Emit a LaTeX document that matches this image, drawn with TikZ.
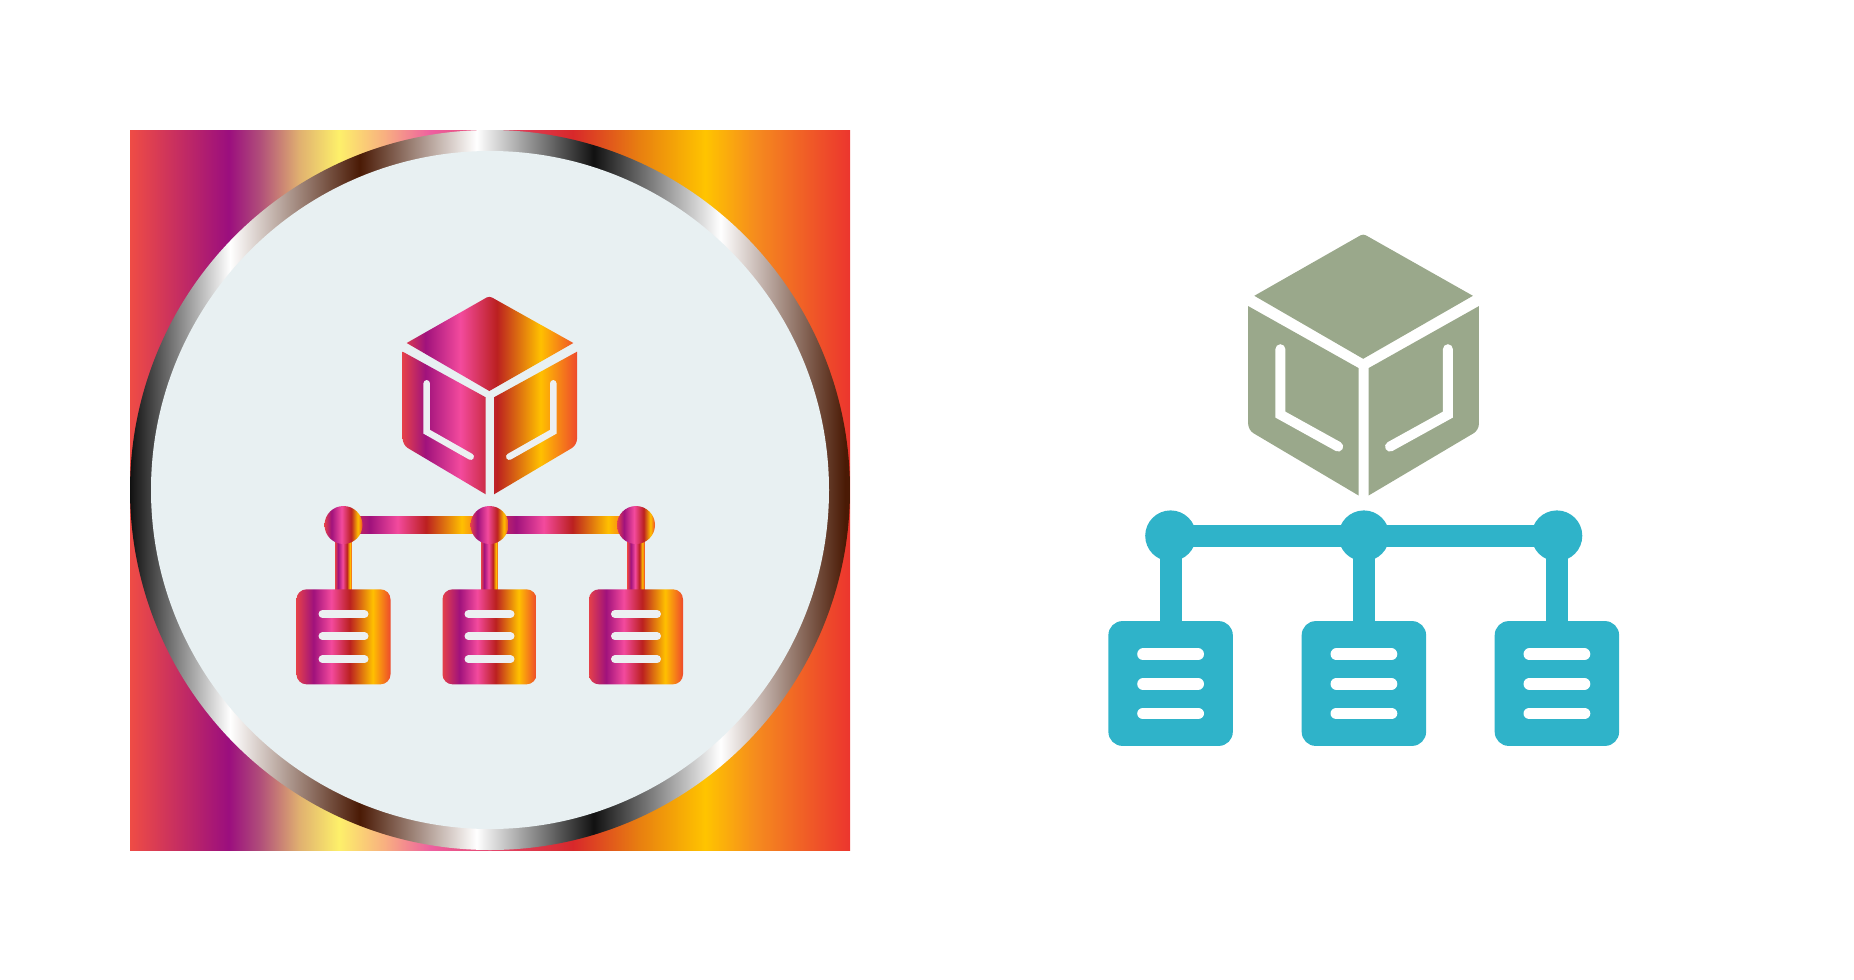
\documentclass[tikz,border=0pt]{standalone}
\usetikzlibrary{backgrounds}
\definecolor{discfill}{HTML}{E8F0F2}
\definecolor{rulefill}{HTML}{ECF0F2}
\definecolor{sagefill}{HTML}{9AA88B}
\definecolor{tealfill}{HTML}{2FB3C9}
\definecolor{gA}{HTML}{EF4C45}
\definecolor{gB}{HTML}{9B0E7E}
\definecolor{gC}{HTML}{B04D7A}
\definecolor{gD}{HTML}{E0B070}
\definecolor{gE}{HTML}{FDF06A}
\definecolor{gF}{HTML}{F8B080}
\definecolor{gG}{HTML}{EE5FA0}
\definecolor{gH}{HTML}{D8282A}
\definecolor{gI}{HTML}{E87F10}
\definecolor{gJ}{HTML}{FFC400}
\definecolor{gK}{HTML}{F58A1E}
\definecolor{gL}{HTML}{EC352E}
\definecolor{rBlack}{HTML}{111111}
\definecolor{rBrown}{HTML}{4A1A05}
\definecolor{iA}{HTML}{E4404A}
\definecolor{iB}{HTML}{A0127C}
\definecolor{iC}{HTML}{F34A9D}
\definecolor{iD}{HTML}{BB2020}
\definecolor{iE}{HTML}{FFC000}
\definecolor{iF}{HTML}{EE4A2C}
\pgfdeclarehorizontalshading{panelshade}{100bp}{color(0bp)=(gA);color(25bp)=(gA);color(31.85bp)=(gB);color(34bp)=(gC);color(36.75bp)=(gD);color(39.5bp)=(gE);color(42.65bp)=(gF);color(45.9bp)=(gG);color(55.75bp)=(gH);color(60.35bp)=(gI);color(64.95bp)=(gJ);color(68.5bp)=(gK);color(75bp)=(gL);color(100bp)=(gL)}
\pgfdeclarehorizontalshading{ringshade}{100bp}{color(0bp)=(rBlack);color(25bp)=(rBlack);color(31.95bp)=(white);color(40.95bp)=(rBrown);color(49.05bp)=(white);color(57.2bp)=(rBlack);color(66bp)=(white);color(74.65bp)=(rBrown);color(100bp)=(rBrown)}
\pgfdeclarehorizontalshading{iconshade}{100bp}{color(0bp)=(iA);color(25bp)=(iA);color(34bp)=(iB);color(43.5bp)=(iC);color(53.25bp)=(iD);color(65.5bp)=(iE);color(75bp)=(iF);color(100bp)=(iF)}
\pgfdeclarehorizontalshading{hubshade}{100bp}{color(0bp)=(iA);color(25bp)=(iA);color(34bp)=(iB);color(47.5bp)=(iC);color(60bp)=(iD);color(69bp)=(iE);color(75bp)=(iF);color(100bp)=(iF)}
\pgfdeclarehorizontalshading{cubeshade}{100bp}{color(0bp)=(iA);color(25bp)=(iA);color(31.5bp)=(iB);color(41.5bp)=(iC);color(52bp)=(iD);color(64.5bp)=(iE);color(75bp)=(iF);color(100bp)=(iF)}
\tikzset{
	hubdot/.style={circle,inner sep=0pt,outer sep=0pt,minimum size=19pt,shade,shading=hubshade},
	docbox/.style={rectangle,rounded corners=5pt,inner sep=0pt,outer sep=0pt,minimum width=47pt,minimum height=47.5pt,shade,shading=iconshade},
	docrule/.style={draw=rulefill,line width=4pt,line cap=round},
	facerule/.style={draw=rulefill,line width=3.25pt,line cap=round,line join=miter},
	tealdot/.style={circle,inner sep=0pt,outer sep=0pt,minimum size=25.4pt,fill=tealfill},
	tealbox/.style={rectangle,rounded corners=7pt,inner sep=0pt,outer sep=0pt,minimum width=62.2pt,minimum height=62.4pt,fill=tealfill},
	tealrule/.style={draw=white,line width=5.9pt,line cap=round},
	tealface/.style={draw=white,line width=5pt,line cap=round,line join=miter},
	teallink/.style={draw=tealfill,line width=11pt}
}
\begin{document}
\begin{tikzpicture}[x=.5pt,y=-.5pt]
	\useasboundingbox (0,0) rectangle (1854,980);
	\node[hubdot] (H1) at (343.5,525) {};
	\node[hubdot] (H2) at (489.5,525) {};
	\node[hubdot] (H3) at (636,525) {};
	\node[docbox] (D1) at (343.5,636.8) {};
	\node[docbox] (D2) at (489.5,636.8) {};
	\node[docbox] (D3) at (636,636.8) {};
	\draw[docrule] (D1.center)++(-21,-22.8)--++(42,0) (D1.center)++(-21,-.5)--++(42,0) (D1.center)++(-21,22.5)--++(42,0)
	(D2.center)++(-21,-22.8)--++(42,0) (D2.center)++(-21,-.5)--++(42,0) (D2.center)++(-21,22.5)--++(42,0)
	(D3.center)++(-21,-22.8)--++(42,0) (D3.center)++(-21,-.5)--++(42,0) (D3.center)++(-21,22.5)--++(42,0);
	\begin{scope}
		\clip (406.7,343)[rounded corners=1.5pt]--(489.3,296)[sharp corners]--(573.3,343)--(489.3,391)--cycle
		(402.7,351.7)--(485.7,397.3)--(485.7,494.3)[rounded corners=3pt]--(402.7,445)[sharp corners]--cycle
		(494,397.3)--(577,351.7)[rounded corners=3pt]--(577,445)[sharp corners]--(494,494.3)--cycle;
		\shade[shading=cubeshade] (402.7,296) rectangle (577,494.3);
	\end{scope}
	\draw[facerule] (426.7,383.3)--(426.7,431.7)--(470.7,456.7)
	(553.3,383.3)--(553.3,431.7)--(509.3,456.7);
	\node[tealdot] (T1) at (1170.6,535.8) {};
	\node[tealdot] (T2) at (1363.9,535.8) {};
	\node[tealdot] (T3) at (1556.9,535.8) {};
	\node[tealbox] (U1) at (1170.6,683.5) {};
	\node[tealbox] (U2) at (1363.9,683.5) {};
	\node[tealbox] (U3) at (1556.9,683.5) {};
	\draw[tealrule] (U1.center)++(-27.5,-29.2)--++(55,0) (U1.center)++(-27.5,.4)--++(55,0) (U1.center)++(-27.5,30)--++(55,0)
	(U2.center)++(-27.5,-29.2)--++(55,0) (U2.center)++(-27.5,.4)--++(55,0) (U2.center)++(-27.5,30)--++(55,0)
	(U3.center)++(-27.5,-29.2)--++(55,0) (U3.center)++(-27.5,.4)--++(55,0) (U3.center)++(-27.5,30)--++(55,0);
	\fill[sagefill] (1254.3,295.8)[rounded corners=1.5pt]--(1363.2,233.8)[sharp corners]--(1472.9,295.8)--(1363.2,358.8)--cycle
	(1248.2,306.1)--(1358.6,368.1)--(1358.6,495.5)[rounded corners=3pt]--(1248.2,430.1)[sharp corners]--cycle
	(1368.6,368.1)--(1478.9,306.1)[rounded corners=3pt]--(1478.9,430.1)[sharp corners]--(1368.6,495.5)--cycle;
	\draw[tealface] (1280.4,349.2)--(1280.4,414.6)--(1338.2,446.6)
	(1447.9,349.2)--(1447.9,414.6)--(1390,446.6);
	\begin{pgfonlayer}{background}
		\shade[shading=panelshade] (130,130) rectangle (850,850);
		\shade[shading=ringshade] (490,490) circle (180pt);
		\fill[discfill] (490,490) circle (169.5pt);
		\shade[shading=iconshade] ([yshift=-4.3pt]H1.center) rectangle ([yshift=4.3pt]H2.center);
		\shade[shading=iconshade] ([yshift=-4.3pt]H2.center) rectangle ([yshift=4.3pt]H3.center);
		\shade[shading=hubshade] ([xshift=-4.2pt]H1.center) rectangle ([xshift=4.2pt]D1.center);
		\shade[shading=hubshade] ([xshift=-4.2pt]H2.center) rectangle ([xshift=4.2pt]D2.center);
		\shade[shading=hubshade] ([xshift=-4.2pt]H3.center) rectangle ([xshift=4.2pt]D3.center);
		\draw[teallink,line width=10.7pt] (T1.center)--(T3.center);
		\draw[teallink] (T1.center)--(U1.center);
		\draw[teallink] (T2.center)--(U2.center);
		\draw[teallink] (T3.center)--(U3.center);
	\end{pgfonlayer}
\end{tikzpicture}
\end{document}
